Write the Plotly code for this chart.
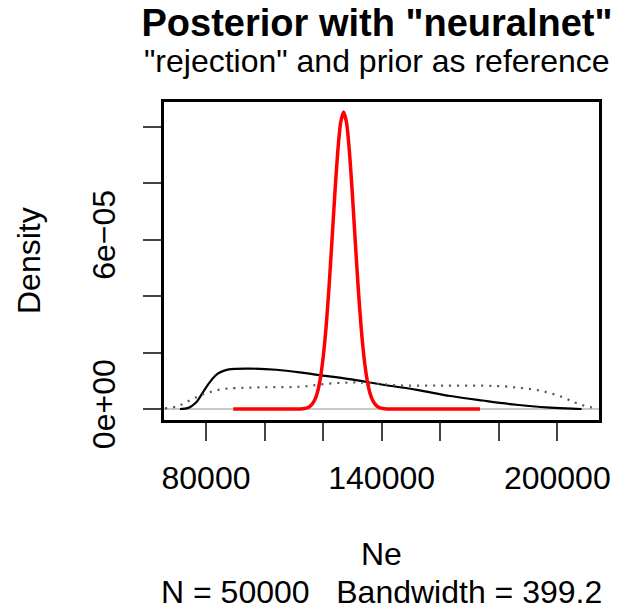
import plotly.graph_objects as go

# ---- data ----
rej_x = [71100, 74000, 76500, 79000, 81500, 84000, 86500, 90000, 95000, 104000,
         112000, 118000, 129000, 140500, 152000, 163500, 174500, 186000, 197500,
         205000, 208300]
rej_y = [0, 4e-7, 2.2e-6, 6.0e-6, 9.8e-6, 1.25e-5, 1.37e-5, 1.42e-5, 1.43e-5,
         1.39e-5, 1.30e-5, 1.21e-5, 1.06e-5, 8.6e-6, 6.8e-6, 4.6e-6, 3.0e-6,
         1.5e-6, 5e-7, 1e-7, 0]

prior_x = [66000, 70000, 74000, 78000, 82000, 86000, 90000, 100000, 112000,
           122000, 130000, 136000, 145000, 160000, 175000, 182000, 187000,
           192000, 197000, 202000, 206000, 209500, 213500]
prior_y = [2e-7, 9e-7, 2.8e-6, 4.8e-6, 6.2e-6, 7.1e-6, 7.4e-6, 7.7e-6, 7.9e-6,
           9.0e-6, 9.4e-6, 9.2e-6, 8.4e-6, 8.25e-6, 8.25e-6, 8.0e-6, 7.5e-6,
           6.9e-6, 5.8e-6, 4.1e-6, 2.3e-6, 1.1e-6, 2e-7]

nn_x = [89300, 105000, 111000, 113000, 115000, 116000, 117000, 118000, 119000,
        120000, 121000, 122000, 123000, 124000, 125000, 126000, 127000, 128000,
        129000, 130000, 131000, 132000, 133000, 134000, 135000, 136000, 137000,
        138000, 139000, 141000, 143000, 149000, 173600]
nn_y = [0, 0, 0, 1e-7, 6e-7, 1.4e-6, 2.9e-6, 5.7e-6, 1.05e-5, 1.81e-5, 2.88e-5,
        4.28e-5, 5.92e-5, 7.61e-5, 9.11e-5, 1.015e-4, 1.052e-4, 1.015e-4,
        9.11e-5, 7.61e-5, 5.92e-5, 4.28e-5, 2.88e-5, 1.81e-5, 1.05e-5, 5.7e-6,
        2.9e-6, 1.4e-6, 6e-7, 1e-7, 0, 0, 0]

x_ticks = [80000, 100000, 120000, 140000, 160000, 180000, 200000]
x_ticktext = ["80000", "", "", "140000", "", "", "200000"]
y_ticks = [0, 2e-5, 4e-5, 6e-5, 8e-5, 1e-4]
y_ticktext = ["0e+00", "", "", "6e\u221205", "", ""]

FONT = "Liberation Sans, Arial, sans-serif"
L, R, T, B = 164, 599, 102, 420
PW, PH = R - L, B - T

fig = go.Figure()
fig.add_trace(go.Scatter(x=rej_x, y=rej_y, mode="lines",
                         line=dict(color="black", width=2.2, shape="spline"),
                         hoverinfo="skip", showlegend=False))
fig.add_trace(go.Scatter(x=prior_x, y=prior_y, mode="lines",
                         line=dict(color="#555555", width=2.2, dash="2px,6px",
                                   shape="spline"),
                         hoverinfo="skip", showlegend=False))
fig.add_trace(go.Scatter(x=nn_x, y=nn_y, mode="lines",
                         line=dict(color="#ff0000", width=3.5, shape="spline",
                                   smoothing=0.6),
                         hoverinfo="skip", showlegend=False))

fig.update_layout(
    width=618, height=615,
    margin=dict(l=L, r=618 - R, t=T, b=615 - B, autoexpand=False),
    paper_bgcolor="white", plot_bgcolor="white",
    font=dict(family=FONT, size=32, color="black"),
    title=dict(text="<b>Posterior with \"neuralnet\"</b>",
               font=dict(family=FONT, size=38, color="black"),
               x=(377 - L) / PW, xref="paper", xanchor="center",
               y=1 - 23 / 615, yref="container", yanchor="middle"),
    annotations=[
        dict(text="\"rejection\" and prior as reference", x=(377 - L) / PW,
             y=(B - 61) / PH,
             xref="paper", yref="paper", xanchor="center", yanchor="middle",
             showarrow=False, font=dict(size=32)),
        dict(text="Ne", x=0.5, y=(B - 554) / PH, xref="paper", yref="paper",
             xanchor="center", yanchor="middle", showarrow=False,
             font=dict(size=32)),
        dict(text="N = 50000\u00a0\u00a0\u00a0Bandwidth = 399.2", x=0.5,
             y=(B - 592) / PH, xref="paper", yref="paper",
             xanchor="center", yanchor="middle", showarrow=False,
             font=dict(size=32)),
        dict(text="Density", x=(29 - L) / PW, y=0.5, xref="paper",
             yref="paper", xanchor="center", yanchor="middle", textangle=-90,
             showarrow=False, font=dict(size=32)),
    ],
)

fig.update_xaxes(range=[65653, 214245], tickvals=x_ticks, ticktext=x_ticktext,
                 ticks="outside", ticklen=18, tickwidth=2, tickcolor="#444444",
                 showline=True, linecolor="black", linewidth=3, mirror=True,
                 showgrid=False, zeroline=False, ticklabelstandoff=10,
                 automargin=False)
fig.update_yaxes(range=[-3.897e-6, 1.0875e-4], tickvals=y_ticks,
                 ticktext=y_ticktext, tickangle=-90,
                 ticks="outside", ticklen=18, tickwidth=2, tickcolor="#444444",
                 showline=True, linecolor="black", linewidth=3, mirror=True,
                 showgrid=False, zeroline=True, zerolinecolor="#c8c8c8",
                 zerolinewidth=2, ticklabelstandoff=15, automargin=False)

fig.write_html("out.html",
               config={"displayModeBar": False},
               post_script="document.body.style.margin='0';"
                           "document.body.style.padding='0';")
